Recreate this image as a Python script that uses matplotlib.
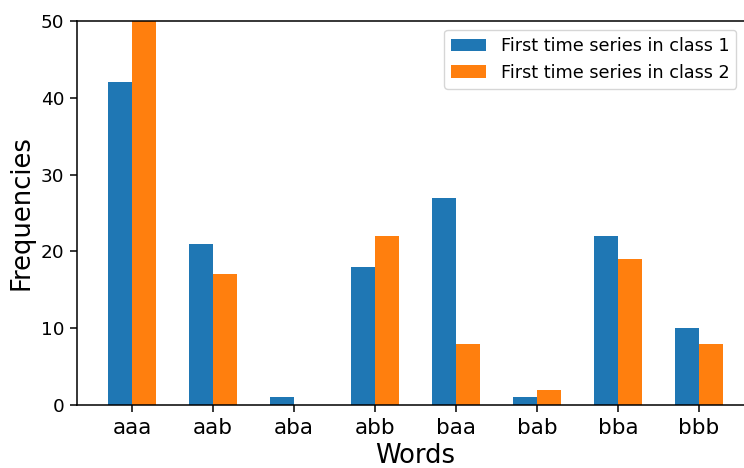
import numpy as np
import matplotlib
matplotlib.use("Agg")
import matplotlib.pyplot as plt

words = ['aaa', 'aab', 'aba', 'abb', 'baa', 'bab', 'bba', 'bbb']
class1 = [42, 21, 1, 18, 27, 1, 22, 10]
class2 = [50, 17, 0, 22, 8, 2, 19, 8]

w = 0.3
x = np.arange(len(words))

fig = plt.figure(figsize=(7.44, 4.68), dpi=100)
ax = fig.add_axes([77/744, 1-405/468, (754-77)/744, (405-21)/468])

ax.bar(x - w/2, class1, w, label='First time series in class 1')
ax.bar(x + w/2, class2, w, label='First time series in class 2')

ax.set_xticks(x)
ax.set_xticklabels(words, fontsize=15.5)
ax.tick_params(axis='y', labelsize=13.3)
ax.tick_params(length=4.8, width=1.1, pad=4.5)
for s in ax.spines.values():
    s.set_linewidth(1.1)
ax.spines['right'].set_visible(False)
ax.set_ylim(0, 50)
ax.set_xlabel('Words', fontsize=18.6, labelpad=4)
ax.set_ylabel('Frequencies', fontsize=18.6)
ax.legend(loc='upper right', bbox_to_anchor=(745/744, 1-21/468),
          bbox_transform=fig.transFigure, fontsize=12.7)

fig.savefig('out.png', dpi=100)
